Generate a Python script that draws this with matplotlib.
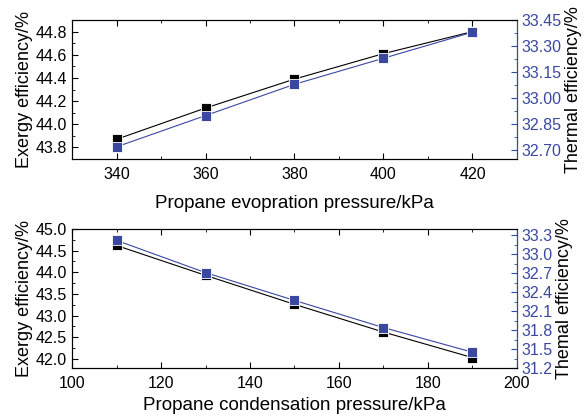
import matplotlib.pyplot as plt
from matplotlib.ticker import MultipleLocator, AutoMinorLocator

plt.rcParams['font.family'] = ['Liberation Sans', 'DejaVu Sans']

# Top panel: propane evaporation pressure
evap_pressure = [340, 360, 380, 400, 420]
evap_exergy = [43.87, 44.14, 44.39, 44.61, 44.80]
evap_thermal = [32.72, 32.90, 33.08, 33.23, 33.38]

# Bottom panel: propane condensation pressure
cond_pressure = [110, 130, 150, 170, 190]
cond_exergy = [44.62, 43.93, 43.26, 42.62, 42.03]
cond_thermal = [33.22, 32.71, 32.27, 31.84, 31.45]

blue = '#3a48a0'

fig = plt.figure(figsize=(5.87, 4.19), dpi=100)
ax1 = fig.add_axes([0.1227, 0.6205, 0.758, 0.3317])
ax2 = fig.add_axes([0.1227, 0.1217, 0.758, 0.3317])


def style(ax, axr):
    ax.tick_params(which='both', direction='in', top=True, labelsize=11.5)
    ax.tick_params(which='major', length=4)
    ax.tick_params(which='minor', length=2)
    ax.tick_params(axis='x', pad=6)
    axr.tick_params(which='both', direction='in', colors=blue, labelsize=11.5)
    axr.tick_params(which='major', length=4)
    axr.tick_params(which='minor', length=2)
    axr.spines['right'].set_color(blue)
    ax.xaxis.set_minor_locator(AutoMinorLocator(2))
    ax.yaxis.set_minor_locator(AutoMinorLocator(2))
    axr.yaxis.set_minor_locator(AutoMinorLocator(2))


# top
ax1r = ax1.twinx()
ax1.plot(evap_pressure, evap_exergy, color='black', lw=0.8, marker='s',
         ms=6.5, mec='white', mew=0.6, zorder=3)
ax1r.plot(evap_pressure, evap_thermal, color=blue, lw=0.8, marker='s',
          ms=6.5, mec='white', mew=0.6)
ax1.set_xlim(330, 430)
ax1.set_ylim(43.7, 44.9)
ax1r.set_ylim(32.65, 33.45)
ax1.xaxis.set_major_locator(MultipleLocator(20))
ax1.yaxis.set_major_locator(MultipleLocator(0.2))
ax1r.yaxis.set_major_locator(MultipleLocator(0.15))
ax1r.yaxis.set_major_formatter(plt.FormatStrFormatter('%.2f'))
style(ax1, ax1r)
ax1.set_xlabel('Propane evopration pressure/kPa', fontsize=13.5, labelpad=9)
ax1.set_ylabel('Exergy efficiency/%', fontsize=13, labelpad=2)
ax1r.set_ylabel('Thermal efficiency/%', fontsize=13, labelpad=2)

# bottom
ax2r = ax2.twinx()
ax2.plot(cond_pressure, cond_exergy, color='black', lw=0.8, marker='s',
         ms=6.5, mec='white', mew=0.6, zorder=3)
ax2r.plot(cond_pressure, cond_thermal, color=blue, lw=0.8, marker='s',
          ms=6.5, mec='white', mew=0.6)
ax2.set_xlim(100, 200)
ax2.set_ylim(41.79, 45.0)
ax2r.set_ylim(31.2, 33.4)
ax2.xaxis.set_major_locator(MultipleLocator(20))
ax2.yaxis.set_major_locator(MultipleLocator(0.5))
ax2r.yaxis.set_major_locator(MultipleLocator(0.3))
ax2r.yaxis.set_major_formatter(plt.FormatStrFormatter('%.1f'))
style(ax2, ax2r)
ax2.set_xlabel('Propane condensation pressure/kPa', fontsize=13.5, labelpad=4)
ax2.set_ylabel('Exergy efficiency/%', fontsize=13, labelpad=2)
ax2r.set_ylabel('Themal efficiency/%', fontsize=13, labelpad=2)

fig.savefig('out.png', dpi=100)
